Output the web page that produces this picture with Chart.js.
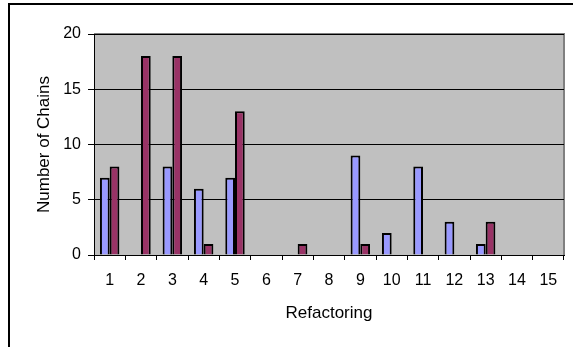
<!DOCTYPE html>
<html>
<head>
<meta charset="utf-8">
<script src="https://cdn.jsdelivr.net/npm/chart.js@4"></script>
<style>
  html, body { margin: 0; padding: 0; background: #fff; }
  canvas { display: block; }
</style>
</head>
<body>
<canvas id="myChart" width="573" height="347"></canvas>
<script>
// datos
const labels = ['1', '2', '3', '4', '5', '6', '7', '8', '9', '10', '11', '12', '13', '14', '15'];
const serieAzul = [7, 0, 8, 6, 7, 0, 0, 0, 9, 2, 8, 3, 1, 0, 0];
const serieGranate = [8, 18, 18, 1, 13, 0, 1, 0, 1, 0, 0, 0, 3, 0, 0];
const yTicks = [0, 5, 10, 15, 20];

// fondo gris del area y marco negro exterior
const marcoPlugin = {
    id: 'marco',
    beforeDraw(chart) {
        const { ctx, chartArea: a } = chart;
        ctx.save();
        ctx.fillStyle = '#fff';
        ctx.fillRect(0, 0, chart.width, chart.height);
        ctx.fillStyle = '#c0c0c0';
        ctx.fillRect(a.left, a.top, a.right - a.left, a.bottom - a.top);
        ctx.strokeStyle = '#808080';
        ctx.lineWidth = 2;
        ctx.beginPath();
        ctx.moveTo(a.left, a.top);
        ctx.lineTo(a.right, a.top);
        ctx.lineTo(a.right, a.bottom);
        ctx.stroke();
        ctx.strokeStyle = '#000';
        ctx.lineWidth = 2;
        ctx.beginPath();
        ctx.moveTo(9, chart.height);
        ctx.lineTo(9, 4);
        ctx.lineTo(chart.width, 4);
        ctx.stroke();
        ctx.restore();
    }
};

const fuente = 'Arial, Liberation Sans';

const ctx = document.getElementById('myChart').getContext('2d');
const myChart = new Chart(ctx, {
    type: 'bar',
    data: {
        labels: labels,
        datasets: [{
            data: serieAzul,
            backgroundColor: '#9999ff',
            borderColor: '#000',
            borderWidth: 2,
        }, {
            data: serieGranate,
            backgroundColor: '#993366',
            borderColor: '#000',
            borderWidth: 2,
        }],
    },
    plugins: [marcoPlugin],
    options: {
        responsive: false,
        animation: false,
        layout: { padding: { top: 34, right: 9, left: 0, bottom: 0 } },
        datasets: { bar: { categoryPercentage: 0.62, barPercentage: 1.0 } },
        plugins: { legend: { display: false }, tooltip: { enabled: false } },
        scales: {
            x: {
                grid: { offset: true, drawOnChartArea: false, drawTicks: true, tickLength: 5, color: '#000' },
                border: { color: '#000', width: 1 },
                ticks: { color: '#000', padding: 11, font: { family: fuente, size: 16 }, maxRotation: 0 },
                title: { display: true, text: 'Refactoring', color: '#000', font: { family: fuente, size: 17 }, padding: { top: 0, bottom: 23 } },
                afterFit: (s) => { s.height = 92; },
            },
            y: {
                min: 0,
                max: 20,
                afterBuildTicks: (s) => { s.ticks = yTicks.map(v => ({ value: v })); },
                grid: { color: '#000', lineWidth: 1, tickLength: 6 },
                border: { color: '#000', width: 1 },
                ticks: { color: '#000', padding: 7, font: { family: fuente, size: 16 } },
                title: { display: true, text: 'Number of Chains', color: '#000', font: { family: fuente, size: 17 }, padding: { top: 34, bottom: 0 } },
                afterFit: (s) => { s.width = 94; },
            },
        },
    },
});
</script>
</body>
</html>
